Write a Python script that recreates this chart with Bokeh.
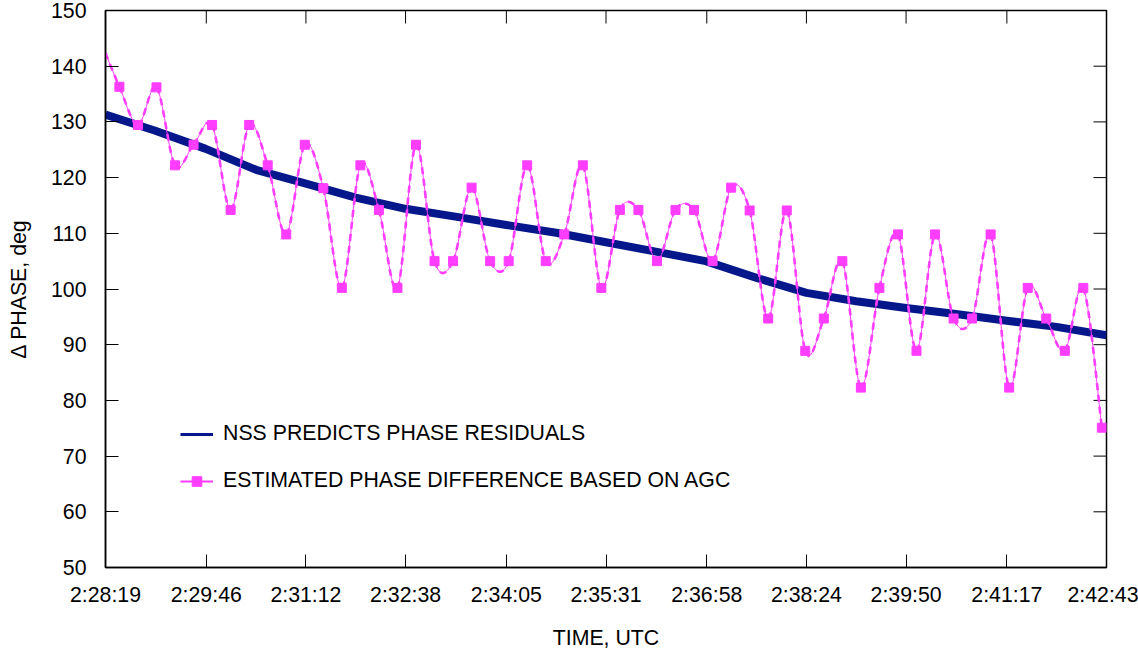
import numpy as np
from bokeh.plotting import figure
from bokeh.models import FixedTicker, LinearAxis, Legend, LegendItem, Range1d
from bokeh.embed import file_html
from bokeh.resources import INLINE

# ---------------- data ----------------
AXIS_START = "2:28:19"
AXIS_END = "2:42:43"
TICK_LABELS = ["2:28:19", "2:29:46", "2:31:12", "2:32:38", "2:34:05", "2:35:31",
               "2:36:58", "2:38:24", "2:39:50", "2:41:17", "2:42:43"]
Y_MIN, Y_MAX = 50, 150
Y_TICKS = [50, 60, 70, 80, 90, 100, 110, 120, 130, 140, 150]

NSS_TIMES = ["2:28:19", "2:29:02", "2:29:45", "2:30:29", "2:31:12", "2:31:55", "2:32:38",
             "2:33:21", "2:34:05", "2:34:48", "2:35:31", "2:36:14", "2:36:57", "2:37:41",
             "2:38:24", "2:39:07", "2:39:50", "2:40:33", "2:41:17", "2:42:00", "2:42:43"]
NSS_PHASE = [131.3, 128.4, 125.2, 121.4, 118.9, 116.4, 114.4, 113.0, 111.5, 110.1, 108.4,
             106.7, 105.0, 102.0, 99.3, 97.8, 96.6, 95.5, 94.3, 93.2, 91.7]

AGC_TIMES = ["2:28:15", "2:28:31", "2:28:47", "2:29:03", "2:29:19", "2:29:35", "2:29:51",
             "2:30:07", "2:30:23", "2:30:39", "2:30:55", "2:31:11", "2:31:27", "2:31:43",
             "2:31:59", "2:32:15", "2:32:31", "2:32:47", "2:33:03", "2:33:19", "2:33:35",
             "2:33:51", "2:34:07", "2:34:23", "2:34:39", "2:34:55", "2:35:11", "2:35:27",
             "2:35:43", "2:35:59", "2:36:15", "2:36:31", "2:36:47", "2:37:03", "2:37:19",
             "2:37:35", "2:37:51", "2:38:07", "2:38:23", "2:38:39", "2:38:55", "2:39:11",
             "2:39:27", "2:39:43", "2:39:59", "2:40:15", "2:40:31", "2:40:47", "2:41:03",
             "2:41:19", "2:41:35", "2:41:51", "2:42:07", "2:42:23", "2:42:39"]
AGC_PHASE = [144.4, 136.3, 129.45, 136.2, 122.2, 125.9, 129.45, 114.2, 129.45, 122.2,
             109.8, 125.9, 118.1, 100.2, 122.2, 114.2, 100.2, 125.9, 105.0, 105.0,
             118.2, 105.0, 105.0, 122.2, 105.0, 109.8, 122.2, 100.2, 114.2, 114.2,
             105.0, 114.2, 114.2, 105.0, 118.2, 114.1, 94.7, 114.1, 88.9, 94.7,
             105.0, 82.3, 100.2, 109.8, 88.9, 109.8, 94.7, 94.7, 109.8, 82.3,
             100.2, 94.7, 88.9, 100.2, 75.1]

NSS_LABEL = "NSS PREDICTS PHASE RESIDUALS"
AGC_LABEL = "ESTIMATED PHASE DIFFERENCE BASED ON AGC"

# ---------------- helpers ----------------
def to_sec(t):
    h, m, s = t.split(":")
    return int(h) * 3600 + int(m) * 60 + int(s)

T0 = to_sec(AXIS_START)
X_END = to_sec(AXIS_END) - T0
rel = lambda ts: np.array([to_sec(t) - T0 for t in ts], dtype=float)

tick_pos = [to_sec(t) - T0 for t in TICK_LABELS]
nss_x = rel(NSS_TIMES)
agc_x = rel(AGC_TIMES)
agc_y = np.array(AGC_PHASE)

# Catmull-Rom smoothing expressed as cubic Bezier control points (data space)
xpad = np.concatenate([[agc_x[0]], agc_x, [agc_x[-1]]])
ypad = np.concatenate([[agc_y[0]], agc_y, [agc_y[-1]]])
n = len(agc_x)
bz = dict(x0=agc_x[:-1], y0=agc_y[:-1], x1=agc_x[1:], y1=agc_y[1:],
          cx0=agc_x[:-1] + (xpad[2:n + 1] - xpad[0:n - 1]) / 6.0,
          cy0=agc_y[:-1] + (ypad[2:n + 1] - ypad[0:n - 1]) / 6.0,
          cx1=agc_x[1:] - (xpad[3:n + 2] - xpad[1:n]) / 6.0,
          cy1=agc_y[1:] - (ypad[3:n + 2] - ypad[1:n]) / 6.0)

# ---------------- figure ----------------
FONT = "Liberation Sans"
FS = "21.3px"
BLUE = "#05178A"
PINK = "#FF3DFF"

p = figure(width=1138, height=652, output_backend="svg", toolbar_location=None,
           x_range=Range1d(0, X_END), y_range=Range1d(Y_MIN, Y_MAX),
           x_axis_type=None, y_axis_type=None,
           min_border_left=105, min_border_right=32, min_border_top=10, min_border_bottom=83)
p.background_fill_color = "white"
p.border_fill_color = "white"
p.outline_line_color = "black"
p.outline_line_width = 1.5
p.xgrid.visible = False
p.ygrid.visible = False


def style_axis(ax):
    ax.axis_line_color = "black"
    ax.axis_line_width = 1.5
    ax.major_tick_in = 13
    ax.major_tick_out = 0
    ax.minor_tick_in = 0
    ax.minor_tick_out = 0
    ax.major_tick_line_color = "black"
    ax.major_tick_line_width = 1
    ax.major_label_text_font = FONT
    ax.major_label_text_color = "black"
    ax.major_label_text_font_size = FS
    ax.axis_label_text_font = FONT
    ax.axis_label_text_font_style = "normal"
    ax.axis_label_text_color = "black"
    ax.axis_label_text_font_size = FS


xb = LinearAxis(ticker=FixedTicker(ticks=tick_pos),
                major_label_overrides={tp: lab for tp, lab in zip(tick_pos, TICK_LABELS)},
                axis_label="TIME, UTC")
style_axis(xb)
xb.major_label_standoff = 15
xb.axis_label_standoff = 16
p.add_layout(xb, "below")

yl = LinearAxis(ticker=FixedTicker(ticks=Y_TICKS), axis_label="Δ PHASE, deg")
style_axis(yl)
yl.major_label_standoff = 19
yl.axis_label_standoff = 17
p.add_layout(yl, "left")

# inward ticks on the top and right edges of the frame
p.ray(x=tick_pos, y=[Y_MAX] * len(tick_pos), length=13, length_units="screen",
      angle=-np.pi / 2, line_color="black", line_width=1)
p.ray(x=[X_END] * len(Y_TICKS), y=Y_TICKS, length=13, length_units="screen",
      angle=np.pi, line_color="black", line_width=1)

# NSS predicted phase residuals (thick navy band)
p.line(nss_x, NSS_PHASE, line_color=BLUE, line_width=8, line_join="round")

# AGC-based estimate (smoothed magenta curve with square markers)
p.bezier(source=bz, x0="x0", y0="y0", x1="x1", y1="y1", cx0="cx0", cy0="cy0",
         cx1="cx1", cy1="cy1", line_color=PINK, line_width=1)
p.bezier(source=bz, x0="x0", y0="y0", x1="x1", y1="y1", cx0="cx0", cy0="cy0",
         cx1="cx1", cy1="cy1", line_color=PINK, line_width=2.6, line_dash="7 5")
p.scatter(agc_x, agc_y, marker="square", size=9, fill_color=PINK, line_color=PINK)

# legend swatches (no data of their own)
leg_nss = p.line([np.nan], [np.nan], line_color=BLUE, line_width=3)
leg_agc_line = p.line([np.nan], [np.nan], line_color=PINK, line_width=2)
leg_agc_mark = p.scatter([np.nan], [np.nan], marker="square", size=7,
                         fill_color=PINK, line_color=PINK)

legend = Legend(items=[LegendItem(label=NSS_LABEL, renderers=[leg_nss]),
                       LegendItem(label=AGC_LABEL, renderers=[leg_agc_line, leg_agc_mark])],
                location=(75, 74), orientation="vertical",
                glyph_width=33, glyph_height=24, label_height=24, label_standoff=10,
                spacing=22, padding=0, margin=0,
                border_line_color=None, background_fill_alpha=0,
                label_text_font=FONT, label_text_font_size=FS, label_text_color="black")
p.add_layout(legend, "center")

open("out.html", "w").write(file_html(p, INLINE))
